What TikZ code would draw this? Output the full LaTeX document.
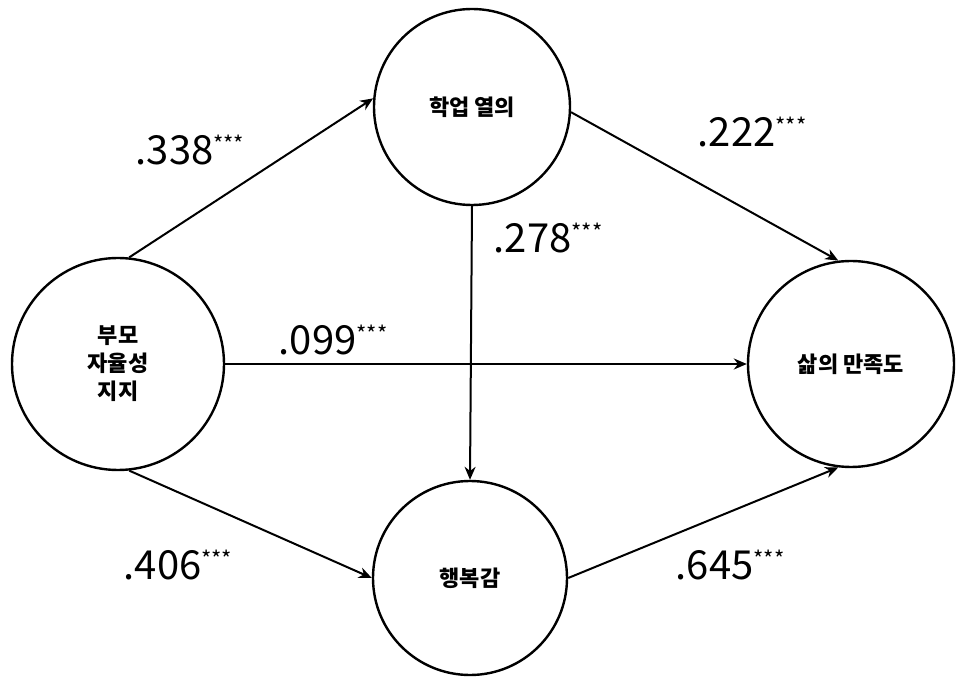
\documentclass[tikz,border=0pt]{standalone}
\usepackage{fontspec}
\setmainfont{Noto Sans CJK KR}
\usetikzlibrary{arrows.meta}
\newcommand{\stars}{\raisebox{12pt}{\fontsize{22}{24}\selectfont ***}}
\begin{document}
\begin{tikzpicture}[x=1pt,y=-1pt,
  var/.style={draw,line width=2.4pt,circle,inner sep=0pt,font=\fontsize{22}{28}\selectfont\bfseries,align=center},
  path/.style={line width=2pt,-{Stealth[length=13pt,width=11pt]}},
  coef/.style={font=\fontsize{40}{44}\selectfont,inner sep=0pt}]
\useasboundingbox[fill=white] (0,0) rectangle (972,684);
\node[var,minimum size=212pt] (p) at (118,364) {부모\\자율성\\지지};
\node[var,minimum size=196pt] (a) at (472,107) {학업 열의};
\node[var,minimum size=194pt] (h) at (470,578) {행복감};
\node[var,minimum size=206pt] (s) at (851,364) {삶의 만족도};
\draw[path] (p.84) -- (a.175);
\draw[path] (a.-3) -- (s.97);
\draw[path] (p.0) -- (s.180);
\draw[path] (a.270) -- (h.90);
\draw[path] (p.-84) -- (h.180);
\draw[path] (h.0) -- (s.-97);
\node[coef] (c1) at (190,150) {.338\stars};
\node[coef] (c2) at (752,132) {.222\stars};
\node[coef] (c3) at (548,238) {.278\stars};
\node[coef] (c4) at (333,340) {.099\stars};
\node[coef] (c5) at (178,565) {.406\stars};
\node[coef] (c6) at (730,565) {.645\stars};
\end{tikzpicture}
\end{document}
